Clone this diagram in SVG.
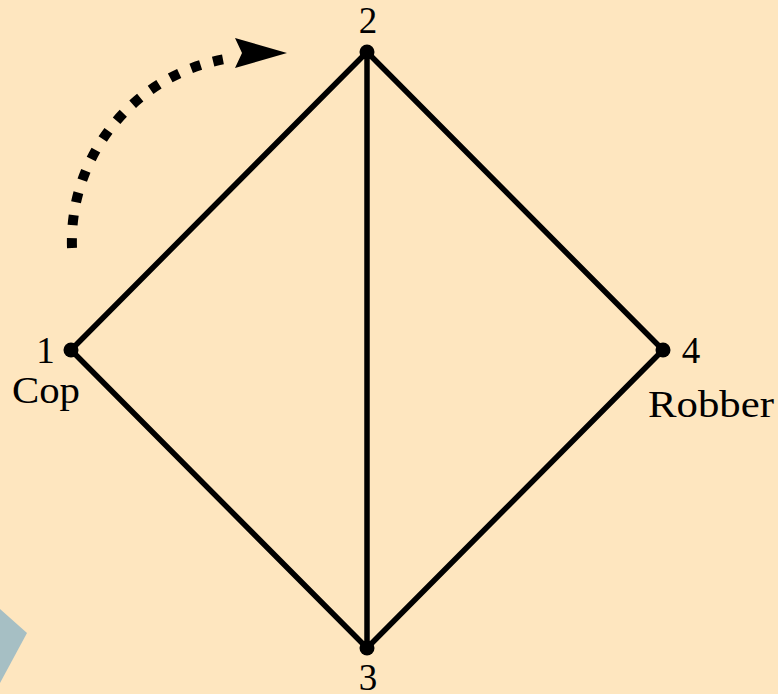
<svg xmlns="http://www.w3.org/2000/svg" width="778" height="694" viewBox="0 0 778 694">
<style>
.edge{stroke:#000;stroke-width:5.5;fill:none;stroke-linecap:round}
.lbl{font-family:"Liberation Serif","Times New Roman",serif;font-size:37px;fill:#000}
</style>
<rect width="778" height="694" fill="#FEE6BF"/>
<polygon points="0,609 27,633 0,683" fill="#A6BFC4"/>
<g id="connectors">
<line class="edge" x1="71" y1="350" x2="367" y2="52"/>
<line class="edge" x1="367" y1="52" x2="663" y2="350"/>
<line class="edge" x1="663" y1="350" x2="367" y2="648"/>
<line class="edge" x1="367" y1="648" x2="71" y2="350"/>
<line class="edge" x1="367" y1="52" x2="367" y2="648"/>
</g>
<g id="rotation-arrow">
<path d="M 72 248 A 185 185 0 0 1 232 58" fill="none" stroke="#000" stroke-width="10" stroke-dasharray="10 13"/>
<polygon points="287,53 235,38 242,53 235,68" fill="#000"/>
</g>
<g id="node1"><circle cx="71" cy="350" r="7.5"/><text class="lbl" x="45.5" y="363" text-anchor="middle">1</text><text class="lbl" x="46" y="403" text-anchor="middle" textLength="68" lengthAdjust="spacingAndGlyphs">Cop</text></g>
<g id="node2"><circle cx="367" cy="52" r="7.5"/><text class="lbl" x="368" y="33" text-anchor="middle">2</text></g>
<g id="node3"><circle cx="367" cy="648" r="7.5"/><text class="lbl" x="368" y="690" text-anchor="middle">3</text></g>
<g id="node4"><circle cx="663" cy="350" r="7.5"/><text class="lbl" x="691" y="363" text-anchor="middle">4</text><text class="lbl" x="648" y="417" textLength="126" lengthAdjust="spacingAndGlyphs">Robber</text></g>
</svg>
